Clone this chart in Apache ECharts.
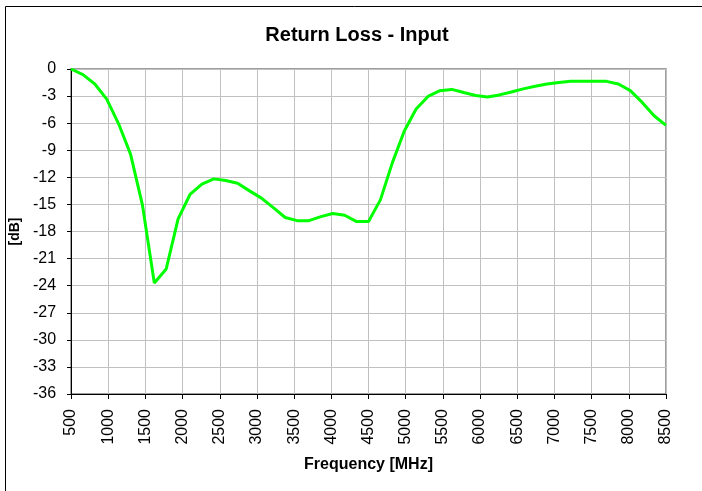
<!DOCTYPE html>
<html>
<head>
<meta charset="utf-8">
<script src="https://cdn.jsdelivr.net/npm/echarts@6/dist/echarts.min.js"></script>
<style>
html,body{margin:0;padding:0;background:#fff;}
#chart{width:702px;height:491px;}
</style>
</head>
<body>
<div id="chart"></div>
<script>
const frequencies = [500,660,820,980,1140,1300,1460,1620,1780,1940,2100,2260,2420,2580,2740,2900,3060,3220,3380,3540,3700,3860,4020,4180,4340,4500,4660,4820,4980,5140,5300,5460,5620,5780,5940,6100,6260,6420,6580,6740,6900,7060,7220,7380,7540,7700,7860,8020,8180,8340,8500];
const returnLoss = [0,-0.63,-1.66,-3.33,-6.07,-9.43,-15.05,-23.7,-22.15,-16.6,-13.9,-12.75,-12.17,-12.35,-12.65,-13.5,-14.3,-15.35,-16.45,-16.8,-16.8,-16.35,-16.0,-16.2,-16.9,-16.9,-14.5,-10.4,-6.9,-4.44,-3.04,-2.4,-2.26,-2.6,-2.93,-3.1,-2.87,-2.55,-2.2,-1.92,-1.66,-1.49,-1.37,-1.37,-1.37,-1.37,-1.66,-2.4,-3.7,-5.18,-6.25];
const titleText = "Return Loss - Input";
const xName = "Frequency [MHz]";
const yName = "[dB]";

const chart = echarts.init(document.getElementById('chart'), null, {renderer:'canvas'});
const font = 'Arial, "Liberation Sans", sans-serif';
chart.setOption({
  animation:false,
  backgroundColor:'#fff',
  title:{text:titleText,left:352,textAlign:'center',top:20,textStyle:{fontFamily:font,fontSize:20,fontWeight:'bold',color:'#000'}},
  graphic:[{type:'rect',shape:{x:5.5,y:6.5,width:760,height:560},style:{fill:'none',stroke:'#000',lineWidth:1},silent:true,z:-1}],
  grid:{left:70.5,right:36,top:69,bottom:97,show:true,borderColor:'#808080',borderWidth:1.5},
  xAxis:{type:'value',min:500,max:8500,interval:500,name:xName,nameLocation:'middle',nameGap:63,
    nameTextStyle:{fontFamily:font,fontSize:16,fontWeight:'bold',color:'#000'},
    axisLine:{onZero:false,lineStyle:{color:'#000',width:1}},
    axisTick:{show:true,length:5,lineStyle:{color:'#000'}},
    axisLabel:{rotate:90,margin:15,fontFamily:font,fontSize:16,color:'#000',formatter:v=>String(v)},
    splitLine:{show:true,lineStyle:{color:'#c0c0c0',width:1}}},
  yAxis:{type:'value',min:-36,max:0,interval:3,name:yName,nameLocation:'middle',nameGap:44,nameRotate:90,
    nameTextStyle:{fontFamily:font,fontSize:14,fontWeight:'bold',color:'#000'},
    axisLine:{show:true,lineStyle:{color:'#000',width:1}},
    axisTick:{show:true,length:4,lineStyle:{color:'#000'}},
    axisLabel:{margin:15,fontFamily:font,fontSize:16,color:'#000',formatter:v=>String(v)},
    splitLine:{show:true,lineStyle:{color:'#c0c0c0',width:1}}},
  series:[{type:'line',data:frequencies.map((f,i)=>[f,returnLoss[i]]),showSymbol:false,symbol:'none',
    lineStyle:{color:'#00ff00',width:3},clip:true}]
});
</script>
</body>
</html>
